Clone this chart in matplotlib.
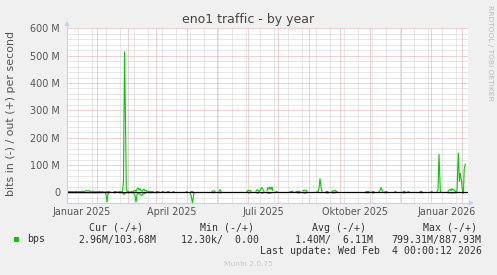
import numpy as np
import matplotlib
matplotlib.use("Agg")
import matplotlib.pyplot as plt
import matplotlib.dates as mdates
import matplotlib.transforms as mtransforms
from matplotlib.patches import Rectangle, Polygon
from matplotlib.lines import Line2D

nan = float("nan")

# ---------------- data (days since 2024-12-02, Mbit/s) ----------------
start_date = np.datetime64("2024-12-02")

out_day = [1, 2, 3, 5, 6, 8, 9, 11, 12, 14, 15, 17, 19, 20, 22, 23, 25, 26, 28, 29, 31, 33, 34, 36, 37,
           38, 40, 41, 43, 45, 47, 48, 50, 51, 52, 54,
           55.5, 56.5, 57.5, 58.5, 59.3, 60,
           61, 62, 63, 64, 65, 66,
           67, 68, 69, 70, 71, 72, 73, 74, 75, 76, 77, 78, 79, 80, 81,
           82, 83, 85, 86, 87, 89, 90, 92, 93, 95, 97, 98, 100,
           102, 103, 106, 107, 108, 111, 112, 115, 116, 119, 120, 121,
           124, 126, 127,
           131, 132, 138, 139, 145, 146, 147, 148, 149, 152, 153, 154, 155, 160, 161, 166, 167, 172, 173,
           180, 181, 182, 183, 184, 185, 189, 190, 191, 192, 193, 194, 195, 196, 197, 198,
           200, 201, 202, 203, 204, 205, 206, 207, 209, 210, 211, 217, 218, 223, 224, 225, 226, 227,
           229, 230, 231, 232, 233, 234, 236, 237, 238, 239, 240, 241,
           250, 251, 252, 253, 254, 255, 256,
           259, 260, 261, 262, 265, 266, 267, 268, 269, 270, 271, 278, 279, 281, 282,
           299, 300, 301, 302, 303, 305, 306, 307, 308,
           312, 313, 314, 315, 316, 317, 318, 319, 320, 321, 328, 329, 330,
           336, 337, 338, 339, 341, 342, 343, 348, 349, 353, 354, 355, 356,
           364, 365, 366, 368, 369,
           370, 371, 372, 373.3, 374, 375,
           381, 382, 383, 384, 385, 386, 387, 388, 389,
           390, 391.3, 392.4, 393, 393.6, 394.5, 395, 395.7, 396.5, 397.2, 398.3]
out_mbit = [3, 2, 4, 2, 3, 2, 4, 2, 3, 2, 4, 3, 6, 5, 6, 3, 2, 4, 1, 3, 2, 4, 2, 3, nan,
            2, 1, 3, 2, nan, 2, 3, 2, nan, 3, 2,
            3, 40, 515, 260, 20, 4,
            2, 4, nan, 3, 2, 3,
            5, 8, 3, 12, 17, 8, 14, 6, 4, 9, 12, 5, 8, 3, 4,
            2, 3, 2, 3, nan, 2, 3, 2, nan, 3, 2, nan, 2,
            3, nan, 2, 3, nan, 2, nan, 3, nan, 2, 3, nan,
            3, 2, nan,
            2, nan, 3, nan, 3, 5, 6, 2, nan, 4, 10, 3, nan, 2, nan, 3, nan, 2, nan,
            3, 7, 6, 8, 3, nan, 4, 10, 8, 3, 6, 14, 18, 9, 4, nan,
            6, 18, 12, 20, 10, 20, 6, nan, 2, 3, nan, 2, nan, 3, 2, 4, 3, nan,
            2, 4, 3, 5, 3, nan, 5, 8, 6, 7, 3, nan,
            2, 3, 15, 51, 20, 3, nan,
            2, 4, 3, nan, 3, 6, 5, 7, 3, 4, nan, 2, nan, 3, nan,
            3, 2, 4, 3, nan, 2, 3, 2, nan,
            3, 6, 18, 10, 4, nan, 2, 3, 2, nan, 3, 2, nan,
            2, 4, 3, nan, 3, 2, nan, 2, nan, 3, 4, 2, nan,
            2, 3, nan, 2, nan,
            3, 10, 140, 5, 2, nan,
            3, 8, 12, 6, 14, 8, 10, 4, 3,
            4, 145, 40, 70, 55, 45, 20, 0, 2, 85, 103]

in_day = [1, 3, 5, 7, 9, 11, 13, 15, 17, 19, 21, 23, 25, 27, 28, 29, 31, 33, 35, 36,
          38, 39, 40, 41, 42, 43, 47, 48, 49, 52, 54, 55, 56, 57, 58, 59, 60, 62, 64, 66,
          67, 68, 69, 70, 71, 72, 73, 74, 75, 76, 77, 78, 79, 80,
          82, 83, 85, 86, 89, 90, 91, 95, 96, 100, 101, 106, 107, 115, 116, 119, 120,
          123, 124, 125.5, 126.5, 127, 128, 129,
          145, 147, 148, 152, 154, 155, 181, 183, 184, 189, 191, 192, 193, 194, 196, 197, 198,
          200, 202, 204, 206, 207, 230, 233, 234, 236, 238, 240, 241, 259, 261, 262, 265, 267, 269, 270,
          299, 301, 302, 305, 307, 308, 318, 320, 321, 336, 338, 339, 353, 355, 356,
          381, 383, 385, 387, 389, 390, 395, 396, 397, 398]
in_mbit = [2, 1, 2, 1, 2, 1, 2, 1, 2, 1, 2, 1, 2, 1, 3, 1, 2, 1, 2, nan,
           1, 8, 36, 6, 1, nan, 1, 2, nan, 1, 2, 1, 3, 8, 4, 2, 1, 2, 1, 2,
           3, 12, 36, 8, 3, 6, 4, 10, 12, 4, 6, 3, 2, nan,
           1, 2, 1, nan, 1, 2, nan, 1, nan, 1, nan, 1, nan, 1, nan, 1, nan,
           2, 10, 40, 12, 2, 1, nan,
           1, 2, nan, 1, 2, nan, 1, 2, nan, 1, 3, 1, nan, 2, 3, 1, nan,
           2, 4, 2, 1, nan, 1, 2, nan, 1, 3, 1, nan, 1, 3, nan, 1, 2, 1, nan,
           1, 2, nan, 1, 2, nan, 1, 2, nan, 1, 2, nan, 1, 2, nan,
           2, 1, 3, 1, 2, nan, 1, 3, 1, 1]

y_ticks = [0, 100, 200, 300, 400, 500, 600]
y_tick_labels = ["0", "100 M", "200 M", "300 M", "400 M", "500 M", "600 M"]
x_label_dates = ["2025-01-01", "2025-04-01", "2025-07-01", "2025-10-01", "2026-01-01"]
x_labels = ["Januar 2025", "April 2025", "Juli 2025", "Oktober 2025", "Januar 2026"]

legend_name = "bps"
legend_heads = ["Cur (-/+)", "Min (-/+)", "Avg (-/+)", "Max (-/+)"]
legend_vals = ["2.96M/103.68M", "12.30k/  0.00", "1.40M/  6.11M", "799.31M/887.93M"]
last_update = "Last update: Wed Feb  4 00:00:12 2026"

# ---------------- figure ----------------
W, H = 497, 275
BG = "#F0F0F0"
GREEN = "#00CC00"
AXC = "#C8D0F6"
fig = plt.figure(figsize=(W / 100, H / 100), dpi=100, facecolor=BG)

L, R, T, B = 67, 468, 28.3, 203
ax = fig.add_axes([L / W, 1 - B / H, (R - L) / W, (B - T) / H])
ax.set_facecolor("white")
for s in ax.spines.values():
    s.set_visible(False)

base = mdates.date2num(start_date)
x0, x1 = base, base + (R - L)
ax.set_xlim(x0, x1)
ax.set_ylim(-39, 600)

# grid
dot = (0, (1, 1))
for v in range(-20, 600, 20):
    if v % 100 != 0:
        ax.axhline(v, color="#D2D2D2", lw=0.72, ls=dot, zorder=1)
for v in y_ticks:
    ax.axhline(v, color="#E6A4A4", lw=0.72, ls=dot, zorder=1.2)
minor_dates = np.arange(np.datetime64("2024-12-13"), np.datetime64("2026-01-10"), 14)
for d in minor_dates:
    ax.axvline(mdates.date2num(d), color="#D2D2D2", lw=0.72, ls=dot, zorder=1)
month_starts = np.arange(np.datetime64("2025-01"), np.datetime64("2026-02"), 1).astype("datetime64[D]")
for d in month_starts:
    ax.axvline(mdates.date2num(d), color="#E6A4A4", lw=0.72, ls=dot, zorder=1.2)

# data
xo = base + np.array(out_day, dtype=float)
yo = np.array(out_mbit, dtype=float)
xi = base + np.array(in_day, dtype=float)
yi = -np.array(in_mbit, dtype=float)
ax.plot(xo, yo, color=GREEN, lw=0.8, zorder=3, solid_joinstyle="miter")
ax.plot(xi, yi, color=GREEN, lw=0.8, zorder=3, solid_joinstyle="miter")
ax.axhline(0, color="black", lw=0.9, zorder=4)

# ticks
ax.set_yticks(y_ticks)
ax.set_yticklabels(y_tick_labels)
ax.set_xticks([mdates.date2num(np.datetime64(d)) for d in x_label_dates])
ax.set_xticklabels(x_labels)
ax.tick_params(axis="both", length=0, labelsize=6.9, labelcolor="#555555")
ax.tick_params(axis="y", pad=5.0)
ax.tick_params(axis="x", pad=3.0)
off = mtransforms.ScaledTranslation(-15 / 100, 0, fig.dpi_scale_trans)
for lab in ax.get_xticklabels():
    lab.set_transform(lab.get_transform() + off)

# axes lines + arrows (figure pixel coords)
def fx(x):
    return x / W

def fy(y):
    return 1 - y / H

fig.add_artist(Line2D([fx(L), fx(L)], [fy(B), fy(25.5)], color=AXC, lw=0.8))
fig.add_artist(Line2D([fx(L), fx(469.5)], [fy(B), fy(B)], color=AXC, lw=0.8))
fig.add_artist(Polygon([[fx(64.3), fy(26)], [fx(69.7), fy(26)], [fx(L), fy(20.8)]],
                       closed=True, color=AXC, lw=0))
fig.add_artist(Polygon([[fx(469), fy(200.3)], [fx(469), fy(205.7)], [fx(474), fy(B)]],
                       closed=True, color=AXC, lw=0))

# texts
fig.text(fx(248), fy(19), "eno1 traffic - by year", ha="center", va="center",
         fontsize=9, color="#444444")
fig.text(fx(11), fy(114), "bits in (-) / out (+) per second", ha="center", va="center",
         rotation=90, fontsize=7.9, color="#555555")
fig.text(fx(490), fy(53), "RRDTOOL / TOBI OETIKER", ha="center", va="center",
         rotation=270, fontsize=5.4, color="#BBBBBB")

mono = "DejaVu Sans Mono"
LEG = "#333333"
for x, s in zip([89.3, 200, 311.7, 422.7], legend_heads):
    fig.text(fx(x), fy(228), s, ha="left", va="center", family=mono, fontsize=7.1, color=LEG)
fig.add_artist(Rectangle((fx(14), fy(242)), 5.3 / W, 5.3 / H, color=GREEN, lw=0))
fig.text(fx(26.7), fy(239.5), legend_name, ha="left", va="center", family=mono,
         fontsize=7.1, color=LEG)
for x, s in zip([78.3, 181, 295, 391.7], legend_vals):
    fig.text(fx(x), fy(239.5), s, ha="left", va="center", family=mono, fontsize=7.1, color=LEG)
fig.text(fx(482.5), fy(251), last_update, ha="right", va="center", family=mono,
         fontsize=7.1, color=LEG)
fig.text(fx(248), fy(264), "Munin 2.0.75", ha="center", va="center", fontsize=5.4,
         color="#C8C8C8")

fig.savefig("out.png", dpi=100, facecolor=BG)
